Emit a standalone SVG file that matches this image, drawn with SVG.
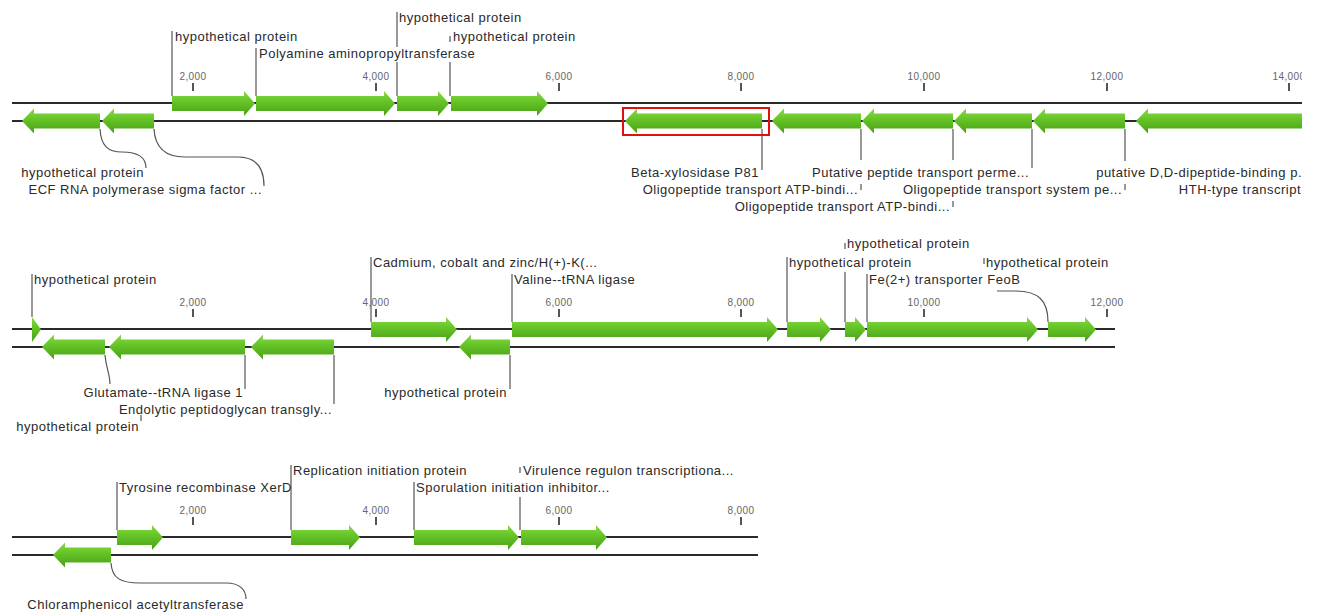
<svg xmlns="http://www.w3.org/2000/svg" width="1319" height="612" viewBox="0 0 1319 612">
<style>
.bg{fill:#ffffff}
.ln{stroke:#2a2a2a;stroke-width:2;fill:none}
.tk{stroke:#555;stroke-width:2}
.tl{font-family:"Liberation Sans",Arial,sans-serif;font-size:10px;fill:#666;text-anchor:middle;letter-spacing:0.4px}
.lb{font-family:"Liberation Sans",Arial,sans-serif;font-size:13px;fill:#2a2a2a;letter-spacing:0.5px}
.e{text-anchor:end}
.ar{fill:url(#g)}
.ld{stroke:#555;stroke-width:1.2;fill:none}
.sel{fill:none;stroke:#e01010;stroke-width:2}
</style>
<defs>
<linearGradient id="g" x1="0" y1="0" x2="0" y2="1">
<stop offset="0" stop-color="#8ad84c"/>
<stop offset="0.4" stop-color="#66c627"/>
<stop offset="1" stop-color="#4a9f17"/>
</linearGradient>
<clipPath id="c1"><rect x="0" y="0" width="1302" height="230"/></clipPath>
</defs>
<rect class="bg" width="1319" height="612"/>

<!-- Row 1 -->
<g id="row1" clip-path="url(#c1)">
<g id="ruler1">
<line class="ln" x1="12" y1="103" x2="1303" y2="103"/>
<line class="ln" x1="12" y1="121" x2="1303" y2="121" stroke="#111"/>
<line class="tk" x1="193" y1="83" x2="193" y2="91"/><text class="tl" x="193" y="80">2,000</text>
<line class="tk" x1="376" y1="83" x2="376" y2="91"/><text class="tl" x="376" y="80">4,000</text>
<line class="tk" x1="559" y1="83" x2="559" y2="91"/><text class="tl" x="559" y="80">6,000</text>
<line class="tk" x1="741" y1="83" x2="741" y2="91"/><text class="tl" x="741" y="80">8,000</text>
<line class="tk" x1="924" y1="83" x2="924" y2="91"/><text class="tl" x="924" y="80">10,000</text>
<line class="tk" x1="1107" y1="83" x2="1107" y2="91"/><text class="tl" x="1107" y="80">12,000</text>
<line class="tk" x1="1289" y1="83" x2="1289" y2="91"/><text class="tl" x="1289" y="80">14,000</text>
</g>
<g id="connectors1">
<path class="ld" d="M172 96V31"/>
<path class="ld" d="M256 96V48"/>
<path class="ld" d="M397 96V62M397 47V12"/>
<path class="ld" d="M450 96V62M450 36V42"/>
<path class="ld" d="M100 129C101 146 108 152 122 152C138 152 146 158 146 168"/>
<path class="ld" d="M154 129C155 148 165 157 185 157L238 157C256 157 264 168 264 186"/>
<path class="ld" d="M762 129V170"/>
<path class="ld" d="M861 129V160M861 184V190"/>
<path class="ld" d="M953 129V160M953 201V207"/>
<path class="ld" d="M1032 129V168"/>
<path class="ld" d="M1125 129V161M1125 184V190"/>
</g>
<g id="n1a"><path class="ar" d="M172 96H244V91L255 103.5L244 116V111H172Z"/><text class="lb" x="175" y="41">hypothetical protein</text></g>
<g id="n1b"><path class="ar" d="M256 96H384V91L395 103.5L384 116V111H256Z"/><text class="lb" x="259" y="58">Polyamine aminopropyltransferase</text></g>
<g id="n1c"><path class="ar" d="M397 96H438V91L449 103.5L438 116V111H397Z"/><text class="lb" x="399" y="22">hypothetical protein</text></g>
<g id="n1d"><path class="ar" d="M451 96H537V91L548 103.5L537 116V111H451Z"/><text class="lb" x="453" y="41">hypothetical protein</text></g>
<g id="n1e"><path class="ar" d="M100 113.5H34V108.5L22 121L34 133.5V128.5H100Z"/><text class="lb e" x="144" y="177">hypothetical protein</text></g>
<g id="n1f"><path class="ar" d="M154 113.5H114V108.5L102 121L114 133.5V128.5H154Z"/><text class="lb e" x="262" y="194">ECF RNA polymerase sigma factor ...</text></g>
<g id="n1g"><path class="ar" d="M762 113.5H637V108.5L625 121L637 133.5V128.5H762Z"/><rect class="sel" x="623" y="108" width="146" height="27"/><text class="lb e" x="759" y="177">Beta-xylosidase P81</text></g>
<g id="n1h"><path class="ar" d="M861 113.5H784V108.5L772 121L784 133.5V128.5H861Z"/><text class="lb e" x="858" y="194">Oligopeptide transport ATP-bindi...</text></g>
<g id="n1i"><path class="ar" d="M953 113.5H874V108.5L862 121L874 133.5V128.5H953Z"/><text class="lb e" x="950" y="211">Oligopeptide transport ATP-bindi...</text></g>
<g id="n1j"><path class="ar" d="M1032 113.5H966V108.5L954 121L966 133.5V128.5H1032Z"/><text class="lb e" x="1029" y="177">Putative peptide transport perme...</text></g>
<g id="n1k"><path class="ar" d="M1125 113.5H1045V108.5L1033 121L1045 133.5V128.5H1125Z"/><text class="lb e" x="1122" y="194">Oligopeptide transport system pe...</text></g>
<g id="n1l"><path class="ar" d="M1303 113.5H1148V108.5L1136 121L1148 133.5V128.5H1303Z"/><text class="lb e" x="1302" y="177">putative D,D-dipeptide-binding p.</text><text class="lb e" x="1301" y="194">HTH-type transcript</text></g>
</g>

<!-- Row 2 -->
<g id="row2">
<g id="ruler2">
<line class="ln" x1="12" y1="329" x2="1115" y2="329"/>
<line class="ln" x1="12" y1="347" x2="1115" y2="347" stroke="#111"/>
<line class="tk" x1="193" y1="309" x2="193" y2="317"/><text class="tl" x="193" y="306">2,000</text>
<line class="tk" x1="376" y1="309" x2="376" y2="317"/><text class="tl" x="376" y="306">4,000</text>
<line class="tk" x1="559" y1="309" x2="559" y2="317"/><text class="tl" x="559" y="306">6,000</text>
<line class="tk" x1="741" y1="309" x2="741" y2="317"/><text class="tl" x="741" y="306">8,000</text>
<line class="tk" x1="924" y1="309" x2="924" y2="317"/><text class="tl" x="924" y="306">10,000</text>
<line class="tk" x1="1107" y1="309" x2="1107" y2="317"/><text class="tl" x="1107" y="306">12,000</text>
</g>
<g id="connectors2">
<path class="ld" d="M32 317V274"/>
<path class="ld" d="M371 322V257"/>
<path class="ld" d="M512 322V274"/>
<path class="ld" d="M787 322V257"/>
<path class="ld" d="M845 322V272M845 243V249"/>
<path class="ld" d="M867 322V274"/>
<path class="ld" d="M1048 322C1048 300 1038 291 1015 291L997 291M984 258V264"/>
<path class="ld" d="M105 355C106 368 110 374 110 384M141 415V421"/>
<path class="ld" d="M245 355V389"/>
<path class="ld" d="M334 355V404"/>
<path class="ld" d="M510 355V389"/>
</g>
<g id="n2a"><path class="ar" d="M32 317L41 329.5L32 342Z"/><text class="lb" x="34" y="284">hypothetical protein</text></g>
<g id="n2b"><path class="ar" d="M371 322H446V317L457 329.5L446 342V337H371Z"/><text class="lb" x="373" y="267">Cadmium, cobalt and zinc/H(+)-K(...</text></g>
<g id="n2c"><path class="ar" d="M512 322H767V317L778 329.5L767 342V337H512Z"/><text class="lb" x="514" y="284">Valine--tRNA ligase</text></g>
<g id="n2d"><path class="ar" d="M787 322H820V317L831 329.5L820 342V337H787Z"/><text class="lb" x="789" y="267">hypothetical protein</text></g>
<g id="n2e"><path class="ar" d="M845 322H855V317L866 329.5L855 342V337H845Z"/><text class="lb" x="847" y="248">hypothetical protein</text></g>
<g id="n2f"><path class="ar" d="M867 322H1027V317L1038 329.5L1027 342V337H867Z"/><text class="lb" x="869" y="284">Fe(2+) transporter FeoB</text></g>
<g id="n2g"><path class="ar" d="M1048 322H1085V317L1096 329.5L1085 342V337H1048Z"/><text class="lb" x="986" y="267">hypothetical protein</text></g>
<g id="n2h"><path class="ar" d="M105 339.5H54V334.5L42 347L54 359.5V354.5H105Z"/><text class="lb e" x="139" y="431">hypothetical protein</text></g>
<g id="n2i"><path class="ar" d="M245 339.5H121V334.5L109 347L121 359.5V354.5H245Z"/><text class="lb e" x="243" y="397">Glutamate--tRNA ligase 1</text></g>
<g id="n2j"><path class="ar" d="M334 339.5H263V334.5L251 347L263 359.5V354.5H334Z"/><text class="lb e" x="332" y="414">Endolytic peptidoglycan transgly...</text></g>
<g id="n2k"><path class="ar" d="M510 339.5H471V334.5L459 347L471 359.5V354.5H510Z"/><text class="lb e" x="507" y="397">hypothetical protein</text></g>
</g>

<!-- Row 3 -->
<g id="row3">
<g id="ruler3">
<line class="ln" x1="12" y1="537" x2="758" y2="537"/>
<line class="ln" x1="12" y1="555" x2="758" y2="555" stroke="#111"/>
<line class="tk" x1="193" y1="517" x2="193" y2="525"/><text class="tl" x="193" y="514">2,000</text>
<line class="tk" x1="376" y1="517" x2="376" y2="525"/><text class="tl" x="376" y="514">4,000</text>
<line class="tk" x1="559" y1="517" x2="559" y2="525"/><text class="tl" x="559" y="514">6,000</text>
<line class="tk" x1="741" y1="517" x2="741" y2="525"/><text class="tl" x="741" y="514">8,000</text>
</g>
<g id="connectors3">
<path class="ld" d="M117 530V482"/>
<path class="ld" d="M291 530V465"/>
<path class="ld" d="M414 530V482"/>
<path class="ld" d="M520 530V497M520 467V473"/>
<path class="ld" d="M111 563C112 578 120 583 140 583L226 583C240 583 246 590 246 599"/>
</g>
<g id="n3a"><path class="ar" d="M117 530H152V525L163 537.5L152 550V545H117Z"/><text class="lb" x="119" y="492">Tyrosine recombinase XerD</text></g>
<g id="n3b"><path class="ar" d="M291 530H349V525L360 537.5L349 550V545H291Z"/><text class="lb" x="293" y="475">Replication initiation protein</text></g>
<g id="n3c"><path class="ar" d="M414 530H508V525L519 537.5L508 550V545H414Z"/><text class="lb" x="416" y="492">Sporulation initiation inhibitor...</text></g>
<g id="n3d"><path class="ar" d="M521 530H596V525L607 537.5L596 550V545H521Z"/><text class="lb" x="523" y="475">Virulence regulon transcriptiona...</text></g>
<g id="n3e"><path class="ar" d="M111 547.5H65V542.5L53 555L65 567.5V562.5H111Z"/><text class="lb e" x="244" y="609">Chloramphenicol acetyltransferase</text></g>
</g>
</svg>
